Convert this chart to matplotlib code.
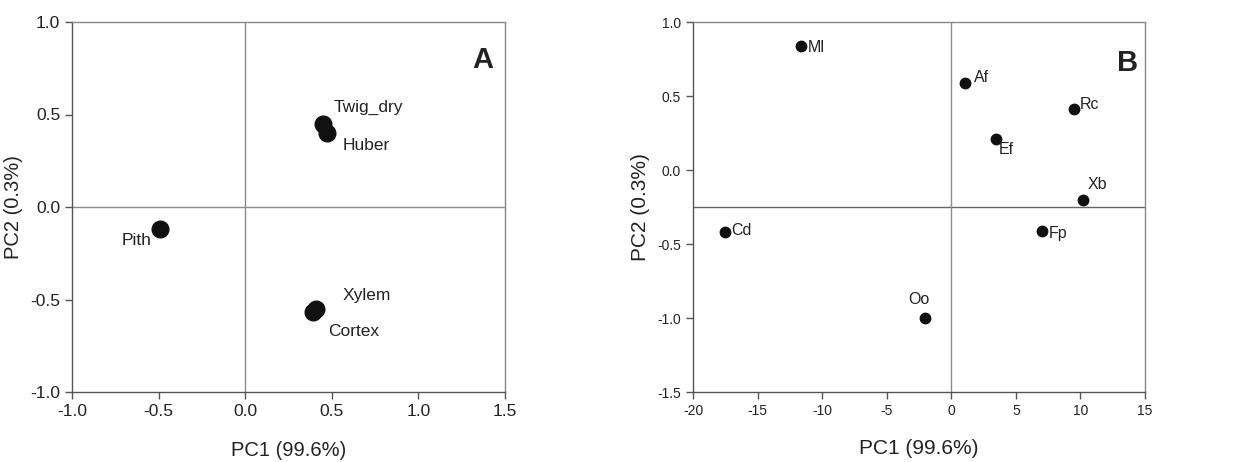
import matplotlib
matplotlib.use("Agg")
import matplotlib.pyplot as plt

plt.rcParams['font.family'] = ['Liberation Sans', 'DejaVu Sans']
plt.rcParams['axes.unicode_minus'] = False

# Panel A data
a_labels = ["Twig_dry", "Huber", "Pith", "Xylem", "Cortex"]
a_pc1 = [0.45, 0.47, -0.49, 0.41, 0.39]
a_pc2 = [0.45, 0.40, -0.12, -0.55, -0.57]
a_xticks = [-1.0, -0.5, 0.0, 0.5, 1.0, 1.5]
a_yticks = [-1.0, -0.5, 0.0, 0.5, 1.0]

# Panel B data
b_labels = ["Ml", "Af", "Rc", "Ef", "Xb", "Cd", "Fp", "Oo"]
b_pc1 = [-11.6, 1.1, 9.5, 3.5, 10.2, -17.5, 7.0, -2.0]
b_pc2 = [0.84, 0.59, 0.41, 0.21, -0.20, -0.42, -0.41, -1.0]
b_xticks = [-20, -15, -10, -5, 0, 5, 10, 15]
b_yticks = [-1.5, -1.0, -0.5, 0.0, 0.5, 1.0]

W, H = 1243, 462
fig = plt.figure(figsize=(W / 100, H / 100), dpi=100)

axA = fig.add_axes([72 / W, 1 - 392 / H, (505 - 72) / W, (392 - 22) / H])
axB = fig.add_axes([693 / W, 1 - 392 / H, (1145 - 693) / W, (392 - 22) / H])

frame_col = "#555555"

def style(ax, tick_fs, label_fs, ylab_x, xlab_y):
    for s in ax.spines.values():
        s.set_color(frame_col)
        s.set_linewidth(1.0)
    ax.spines['top'].set_color("#888888")
    ax.spines['right'].set_color("#888888")
    ax.tick_params(direction='out', length=5, width=1, color=frame_col,
                   labelsize=tick_fs, labelcolor="#222222",
                   top=False, right=False)
    ax.set_xlabel("PC1 (99.6%)", fontsize=label_fs, color="#222222")
    ax.set_ylabel("PC2 (0.3%)", fontsize=label_fs, color="#222222")
    ax.yaxis.set_label_coords(ylab_x, 0.5)
    ax.xaxis.set_label_coords(0.5, xlab_y)

# Panel A
axA.set_xlim(-1.0, 1.5)
axA.set_ylim(-1.0, 1.0)
axA.set_xticks(a_xticks)
axA.set_yticks(a_yticks)
axA.set_xticklabels([f"{v:.1f}" for v in a_xticks])
axA.set_yticklabels([f"{v:.1f}" for v in a_yticks])
axA.axhline(0.0, color="#8c8c8c", lw=1.0, zorder=1)
axA.axvline(0.0, color="#8c8c8c", lw=1.0, zorder=1)
axA.plot(a_pc1, a_pc2, 'o', color="#111111", markersize=12, zorder=3, linestyle='none')
a_offsets = {"Twig_dry": (10, 16, 'left'), "Huber": (16, -13, 'left'),
             "Pith": (-9, -11, 'right'), "Xylem": (26, 13, 'left'),
             "Cortex": (15, -19, 'left')}
for lab, x, y in zip(a_labels, a_pc1, a_pc2):
    dx, dy, ha = a_offsets[lab]
    axA.annotate(lab, (x, y), xytext=(dx, dy), textcoords='offset pixels',
                 ha=ha, va='center', fontsize=12.5, color="#222222")
axA.text(0.972, 0.897, "A", transform=axA.transAxes, ha='right', va='center',
         fontsize=21, fontweight='bold', color="#222222")
style(axA, 12.5, 14.5, -0.113, -0.133)

# Panel B
axB.set_xlim(-20, 15)
axB.set_ylim(-1.5, 1.0)
axB.set_xticks(b_xticks)
axB.set_yticks(b_yticks)
axB.set_xticklabels([str(v) for v in b_xticks])
axB.set_yticklabels([f"{v:.1f}" for v in b_yticks])
axB.axhline(-0.25, color="#666666", lw=1.0, zorder=1)
axB.axvline(0.0, color="#8c8c8c", lw=1.0, zorder=1)
axB.plot(b_pc1, b_pc2, 'o', color="#111111", markersize=7.5, zorder=3, linestyle='none')
b_offsets = {"Ml": (6, -2, 'left'), "Af": (8, 5, 'left'), "Rc": (6, 5, 'left'),
             "Ef": (2, -11, 'left'), "Xb": (5, 15, 'left'), "Cd": (6, 2, 'left'),
             "Fp": (7, -3, 'left'), "Oo": (-7, 18, 'center')}
for lab, x, y in zip(b_labels, b_pc1, b_pc2):
    dx, dy, ha = b_offsets[lab]
    axB.annotate(lab, (x, y), xytext=(dx, dy), textcoords='offset pixels',
                 ha=ha, va='center', fontsize=11.5, color="#222222")
axB.text(0.985, 0.889, "B", transform=axB.transAxes, ha='right', va='center',
         fontsize=21, fontweight='bold', color="#222222")
style(axB, 10, 15, -0.095, -0.128)

fig.savefig("out.png", dpi=100)
